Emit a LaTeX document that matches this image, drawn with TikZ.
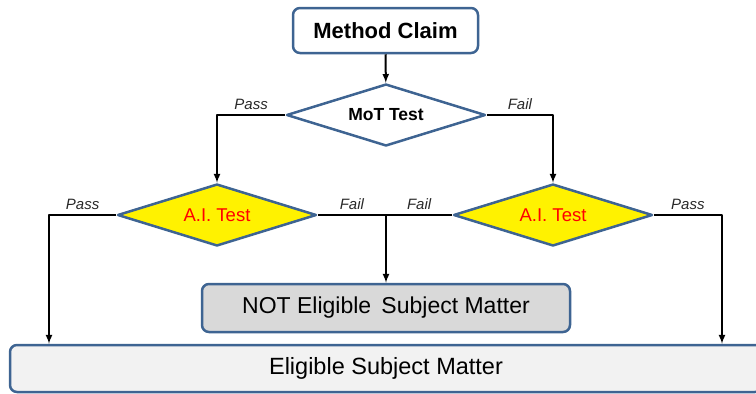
\documentclass[tikz,border=0pt]{standalone}
\usepackage{fontspec}
\setmainfont{Liberation Sans}
\usetikzlibrary{arrows, positioning, shapes}
\definecolor{frame_blue}{RGB}{62,100,146}
\definecolor{box_gray}{RGB}{217,217,217}
\definecolor{box_light}{RGB}{242,242,242}
\definecolor{label_gray}{RGB}{40,40,40}
\tikzset{
    flowbox/.style={draw=frame_blue, line width=2.5pt, rounded corners=7pt, inner sep=0pt},
    testdiamond/.style={diamond, draw=frame_blue, line width=2.5pt, inner sep=0pt, aspect=3.2,
                        minimum width=199pt, minimum height=62pt},
    branch/.style={draw, line width=2pt, -latex},
    answer/.style={above, font=\fontsize{15}{17}\selectfont\itshape, text=label_gray, inner sep=4pt}
}

\begin{document}
\begin{tikzpicture}[x=1pt, y=-1pt, line join=round]
    \useasboundingbox (0,0) rectangle (756,394);

    % boxes and tests
    \node[flowbox, fill=white, minimum width=185pt, minimum height=45pt,
          font=\fontsize{22}{26}\selectfont\bfseries] (claim) at (385.5,30.5) {Method Claim};
    \node[testdiamond, fill=white, font=\fontsize{17.5}{20}\selectfont\bfseries] (mot) at (386,115) {MoT Test};
    \node[testdiamond, fill=yellow, text=red, font=\fontsize{18.5}{21}\selectfont] (ail) at (217,215) {A.I. Test};
    \node[testdiamond, fill=yellow, text=red, font=\fontsize{18.5}{21}\selectfont] (air) at (553,215) {A.I. Test};
    \node[flowbox, fill=box_gray, minimum width=368pt, minimum height=48pt,
          font=\fontsize{23}{27}\selectfont] (notel) at (386,308) {NOT Eligible\, Subject Matter};
    \node[flowbox, fill=box_light, minimum width=752pt, minimum height=47pt,
          font=\fontsize{23.5}{27}\selectfont] (elig) at (386,368.5) {Eligible Subject Matter};

    \coordinate (passL) at (49,0);
    \coordinate (passR) at (722,0);
    \coordinate (join) at (ail.east -| notel.north);

    % connectors
    \draw[branch] (claim) -- (mot);
    \draw[branch] (mot.west) -| node[answer, pos=0.25] {Pass} (ail.north);
    \draw[branch] (mot.east) -| node[answer, pos=0.25] {Fail} (air.north);
    \draw[branch] (ail.west) -| node[answer, pos=0.25] {Pass} (passL |- elig.north);
    \draw[branch] (air.east) -| node[answer, pos=0.25] {Pass} (passR |- elig.north);
    \draw[line width=2pt] (ail.east) -- node[answer] {Fail} (join);
    \draw[line width=2pt] (air.west) -- node[answer] {Fail} (join);
    \draw[branch] (join) -- (notel);

\end{tikzpicture}
\end{document}
